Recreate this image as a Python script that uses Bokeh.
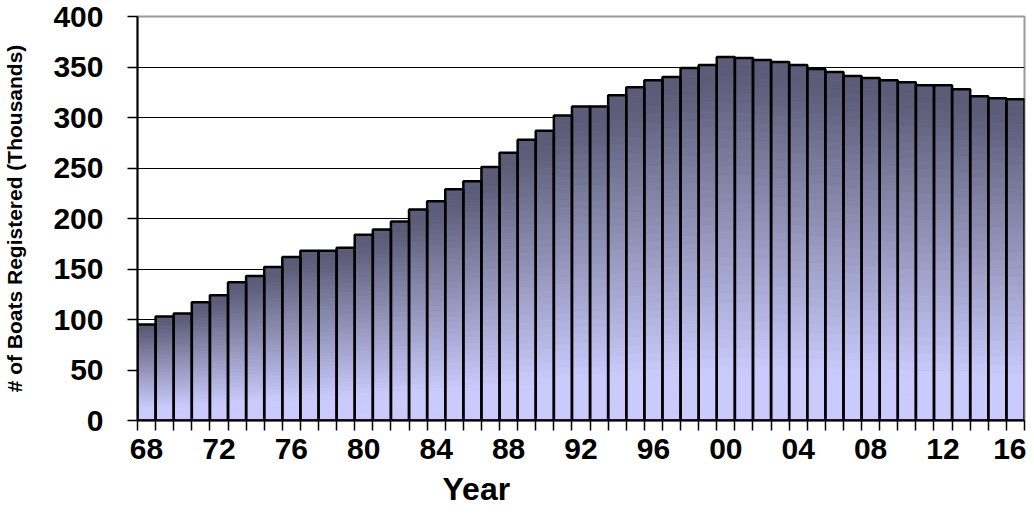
from bokeh.plotting import figure
from bokeh.models import Range1d, FixedTicker, ColumnDataSource, Title
from bokeh.embed import file_html
from bokeh.resources import INLINE

# ---- data ----
years = list(range(1968, 2017))
boats = [95, 103, 106, 117, 124, 137, 143, 152, 162, 168, 168, 171, 184, 189, 197, 209, 217,
         229, 237, 251, 265, 278, 287, 302, 311, 311, 322, 330, 337, 340, 349, 352, 360,
         359, 357, 355, 352, 348, 345, 341, 339, 337, 335, 332, 332, 328, 321, 319, 318]
label_years = years[::4]
year_labels = ["68", "72", "76", "80", "84", "88", "92", "96", "00", "04", "08", "12", "16"]
y_ticks = [0, 50, 100, 150, 200, 250, 300, 350, 400]
grid_ticks = [50, 100, 150, 200, 250, 300, 350]
x_title = "Year"
y_title = "# of Boats Registered (Thousands)"

FONT = "Liberation Sans"
DARK = (0x5c, 0x5c, 0x78)
LIGHT = (0xca, 0xca, 0xfc)
NSEG = 40


def shade(t):
    # t: 0 at the bar top, 1 at the bar bottom
    u = min(max((t - 0.05) / 0.82, 0.0), 1.0)
    c = [round(d + (l - d) * u) for d, l in zip(DARK, LIGHT)]
    return "#%02x%02x%02x" % tuple(c)


# gradient pieces derived from each bar's value
gl, gr, gb, gt, gc = [], [], [], [], []
for yr, v in zip(years, boats):
    for k in range(NSEG):
        gl.append(yr - 0.5)
        gr.append(yr + 0.5)
        gb.append(v * k / NSEG)
        gt.append(v * (k + 1) / NSEG)
        gc.append(shade(1 - (k + 0.5) / NSEG))
grad = ColumnDataSource(dict(left=gl, right=gr, bottom=gb, top=gt, color=gc))

p = figure(width=1026, height=521, output_backend="svg", toolbar_location=None,
           x_range=Range1d(years[0] - 0.5, years[-1] + 0.5), y_range=Range1d(0, 400),
           min_border_left=137, min_border_right=2, min_border_top=16, min_border_bottom=101)

p.quad(left="left", right="right", bottom="bottom", top="top", source=grad,
       fill_color="color", line_color="color", line_width=1)
p.vbar(x=years, top=boats, width=1.0, fill_color=None, line_color="black", line_width=2.5)

# grid
p.xgrid.visible = False
p.ygrid.ticker = FixedTicker(ticks=grid_ticks)
p.ygrid.grid_line_color = "black"
p.ygrid.grid_line_width = 1.2

p.outline_line_color = "#9a9a9a"
p.outline_line_width = 2
p.background_fill_color = "white"
p.border_fill_color = "white"

# x axis
xa = p.xaxis[0]
xa.ticker = FixedTicker(ticks=label_years, minor_ticks=[y - 0.5 for y in years] + [years[-1] + 0.5])
xa.major_label_overrides = {yr: lab for yr, lab in zip(label_years, year_labels)}
xa.major_tick_line_color = None
xa.major_tick_out = 10
xa.major_tick_in = 0
xa.minor_tick_line_color = "black"
xa.minor_tick_line_width = 1.5
xa.minor_tick_out = 10
xa.minor_tick_in = 0
xa.major_label_standoff = 8
xa.major_label_text_font = FONT
xa.major_label_text_font_style = "bold"
xa.major_label_text_font_size = "30px"
xa.major_label_text_color = "black"
xa.axis_line_color = "black"
xa.axis_line_width = 2

# x-axis title below the axis, left of centre as in the original
p.add_layout(Title(text=x_title, align="left", offset=305, standoff=15,
                   text_font=FONT, text_font_style="bold", text_font_size="32px",
                   text_color="black"), "below")

# y axis
ya = p.yaxis[0]
ya.ticker = FixedTicker(ticks=y_ticks)
ya.major_tick_out = 10
ya.major_tick_in = 0
ya.major_tick_line_color = "black"
ya.major_tick_line_width = 1.5
ya.minor_tick_line_color = None
ya.major_label_standoff = 24
ya.major_label_text_font = FONT
ya.major_label_text_font_style = "bold"
ya.major_label_text_font_size = "30px"
ya.major_label_text_color = "black"
ya.axis_line_color = "black"
ya.axis_line_width = 2
ya.axis_label = y_title
ya.axis_label_text_font = FONT
ya.axis_label_text_font_style = "bold"
ya.axis_label_text_font_size = "21px"
ya.axis_label_text_color = "black"
ya.axis_label_standoff = 24

open("out.html", "w").write(file_html(p, INLINE))
